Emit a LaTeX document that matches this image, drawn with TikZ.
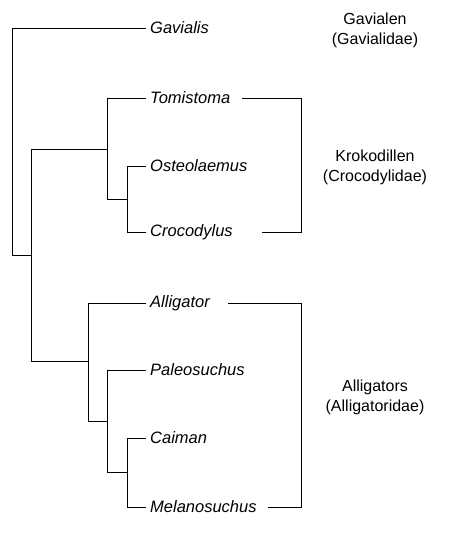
\documentclass[tikz,border=0pt]{standalone}
\usepackage{fontspec}
\setmainfont{Liberation Sans}
\tikzset{
  branch/.style={draw=black, line width=1pt},
  taxon/.style={anchor=west, inner xsep=4pt, inner ysep=0pt, font=\fontsize{16.5}{19}\selectfont\itshape},
  family/.style={align=center, inner sep=0pt, font=\fontsize{16}{20}\selectfont}
}
\begin{document}
\begin{tikzpicture}[x=1pt, y=-1pt]
  \useasboundingbox (0,0) rectangle (449,533);
  % genera, text starts at x=150
  \node[taxon] (gav)  at (146,28)  {Gavialis};
  \node[taxon] (tom)  at (146,98)  {Tomistoma};
  \node[taxon] (ost)  at (146,166) {Osteolaemus};
  \node[taxon] (cro)  at (146,232) {Crocodylus};
  \node[taxon] (all)  at (146,303) {Alligator};
  \node[taxon] (pal)  at (146,370) {Paleosuchus};
  \node[taxon] (cai)  at (146,438) {Caiman};
  \node[taxon] (mel)  at (146,507) {Melanosuchus};
  % inner nodes of the tree
  \coordinate (root) at (12,141.5);
  \coordinate (n1)   at (31,255);
  \coordinate (croc) at (107,149);
  \coordinate (oc)   at (127,199);
  \coordinate (alli) at (88,361);
  \coordinate (pc)   at (107,421);
  \coordinate (cm)   at (127,472);
  \draw[branch] (root) |- (gav.west);
  \draw[branch] (root) |- (n1);
  \draw[branch] (n1) |- (croc);
  \draw[branch] (n1) |- (alli);
  \draw[branch] (croc) |- (tom.west);
  \draw[branch] (croc) |- (oc);
  \draw[branch] (oc) |- (ost.west);
  \draw[branch] (oc) |- (cro.west);
  \draw[branch] (alli) |- (all.west);
  \draw[branch] (alli) |- (pc);
  \draw[branch] (pc) |- (pal.west);
  \draw[branch] (pc) |- (cm);
  \draw[branch] (cm) |- (cai.west);
  \draw[branch] (cm) |- (mel.west);
  % family brackets
  \coordinate (k1) at (242,98);
  \coordinate (k2) at (301,232);
  \coordinate (k3) at (262,232);
  \coordinate (a1) at (228,303);
  \coordinate (a2) at (301,507);
  \coordinate (a3) at (268,507);
  \draw[branch] (k1) -| (k2) -- (k3);
  \draw[branch] (a1) -| (a2) -- (a3);
  % family names
  \node[family] (gavf) at (375,30)  {Gavialen\\(Gavialidae)};
  \node[family] (krof) at (375,167) {Krokodillen\\(Crocodylidae)};
  \node[family] (allf) at (375,397) {Alligators\\(Alligatoridae)};
\end{tikzpicture}
\end{document}
